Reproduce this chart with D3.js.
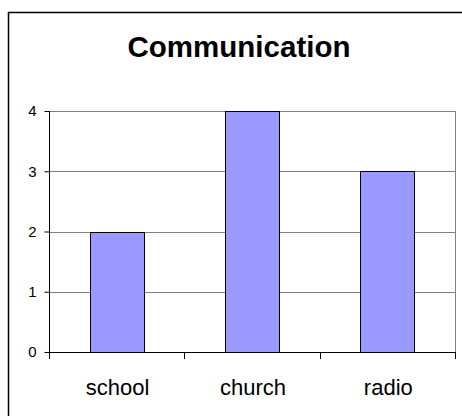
<!DOCTYPE html>
<html>
<head>
<meta charset="utf-8">
<script src="https://cdn.jsdelivr.net/npm/d3@7"></script>
<style>
  html, body { margin: 0; padding: 0; background: #fff; }
  svg { display: block; }
</style>
</head>
<body>
<script>
// Chart data
const categories = ["school", "church", "radio"];
const counts = [2, 4, 3];
const yTicks = [0, 1, 2, 3, 4];
const chartTitle = "Communication";

const W = 462, H = 416;
const svg = d3.select("body").append("svg").attr("width", W).attr("height", H);

// Outer chart frame (extends past the right and bottom edges)
svg.append("rect")
  .attr("x", 8.5).attr("y", 12.5)
  .attr("width", 470).attr("height", 420)
  .attr("fill", "#fff").attr("stroke", "#000").attr("stroke-width", 1.5);

const plot = { left: 49, right: 455, top: 111, bottom: 352 };

const x = d3.scaleBand()
  .domain(categories)
  .range([plot.left, plot.right])
  .paddingInner(0.6)
  .paddingOuter(0.3);

const y = d3.scaleLinear()
  .domain([0, 4])
  .range([plot.bottom, plot.top]);

// Horizontal gridlines
svg.append("g")
  .selectAll("line")
  .data(yTicks.filter(d => d > 0))
  .join("line")
  .attr("x1", plot.left).attr("x2", plot.right)
  .attr("y1", d => Math.round(y(d)) + 0.5).attr("y2", d => Math.round(y(d)) + 0.5)
  .attr("stroke", "#808080").attr("stroke-width", 1);

// Right edge of the plot area
svg.append("line")
  .attr("x1", plot.right + 0.5).attr("x2", plot.right + 0.5)
  .attr("y1", plot.top).attr("y2", plot.bottom)
  .attr("stroke", "#808080").attr("stroke-width", 1);

// Bars
svg.append("g")
  .selectAll("rect")
  .data(categories.map((c, i) => ({ c, v: counts[i] })))
  .join("rect")
  .attr("x", d => Math.round(x(d.c)) + 0.5)
  .attr("y", d => Math.round(y(d.v)) + 0.5)
  .attr("width", Math.round(x.bandwidth()))
  .attr("height", d => Math.round(y(0)) - Math.round(y(d.v)))
  .attr("fill", "#9999ff")
  .attr("stroke", "#000").attr("stroke-width", 1);

// Y axis
const yAxis = svg.append("g")
  .attr("transform", `translate(${plot.left + 0.5},0)`)
  .call(d3.axisLeft(y).tickValues(yTicks).tickFormat(d3.format("d"))
    .tickSize(5).tickPadding(8).tickSizeOuter(0))
  .attr("font-family", "'Liberation Sans', Arial, sans-serif")
  .attr("font-size", 15);
yAxis.select(".domain").remove();
yAxis.append("line")
  .attr("x1", 0).attr("x2", 0)
  .attr("y1", plot.top).attr("y2", plot.bottom + 7)
  .attr("stroke", "#000");
yAxis.selectAll(".tick line").attr("stroke", "#000");
yAxis.selectAll(".tick text").attr("fill", "#000");

// X axis: category boundary ticks and centred labels
const bounds = [plot.left, ...categories.map(c => x(c) + x.bandwidth() / 2 + x.step() / 2)];
const xg = svg.append("g");
xg.append("line")
  .attr("x1", plot.left).attr("x2", plot.right + 1)
  .attr("y1", Math.round(y(0)) + 0.5).attr("y2", Math.round(y(0)) + 0.5)
  .attr("stroke", "#000");
xg.selectAll("line.sep")
  .data(bounds.slice(1))
  .join("line")
  .attr("class", "sep")
  .attr("x1", d => Math.round(d) + 0.5).attr("x2", d => Math.round(d) + 0.5)
  .attr("y1", Math.round(y(0))).attr("y2", Math.round(y(0)) + 7)
  .attr("stroke", "#000");
xg.selectAll("text")
  .data(categories)
  .join("text")
  .attr("x", d => x(d) + x.bandwidth() / 2 + 1)
  .attr("y", 395)
  .attr("text-anchor", "middle")
  .attr("fill", "#000")
  .style("font-family", "'Liberation Sans', Arial, sans-serif")
  .style("font-size", "22px")
  .text(d => d);

// Title
svg.append("text")
  .attr("x", 239).attr("y", 57)
  .attr("text-anchor", "middle")
  .attr("fill", "#000")
  .style("font-family", "'Liberation Sans', Arial, sans-serif")
  .style("font-weight", "bold")
  .style("font-size", "29.5px")
  .text(chartTitle);
</script>
</body>
</html>
